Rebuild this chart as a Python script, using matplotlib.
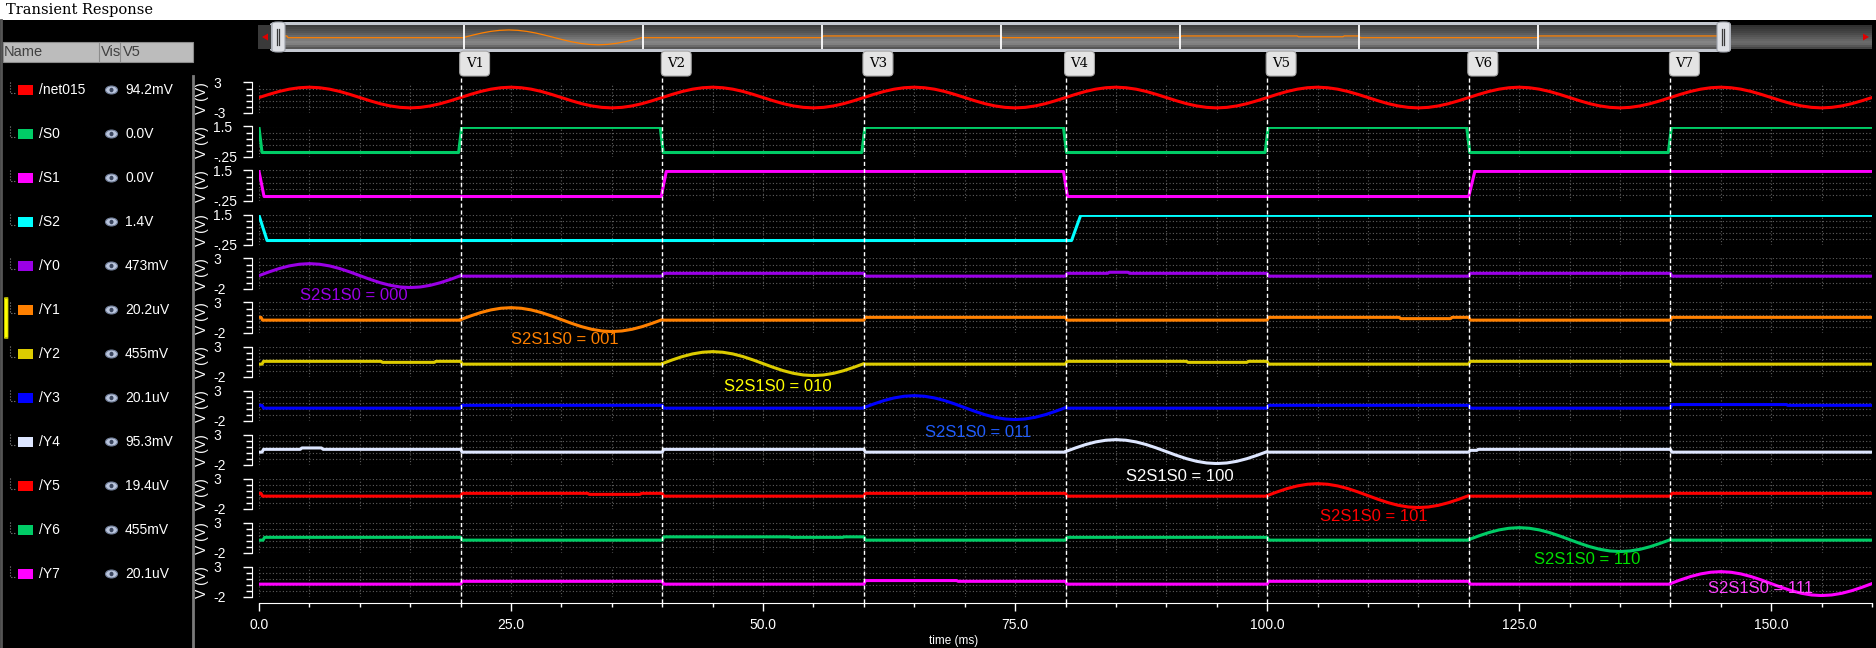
import numpy as np
import matplotlib
matplotlib.use('Agg')
import matplotlib.pyplot as plt
from matplotlib.patches import Rectangle, Ellipse, FancyBboxPatch, Polygon
from matplotlib.lines import Line2D

W, H = 1876, 648
plt.rcParams['font.family'] = ['Liberation Sans', 'DejaVu Sans']

# ---------------- data ----------------
marker_times = [20, 40, 60, 80, 100, 120, 140]
marker_names = ['V1', 'V2', 'V3', 'V4', 'V5', 'V6', 'V7']

# one period (20 ms) of the input sine, sampled every 1 ms (V)
period_t = list(range(21))
period_v = [0.09, 0.71, 1.27, 1.71, 1.99, 2.09, 1.99, 1.71, 1.27, 0.71, 0.09,
            -0.53, -1.09, -1.53, -1.81, -1.91, -1.81, -1.53, -1.09, -0.53, 0.09]
n_periods = 8

# select lines (ms, V)
s0_t = [0, 0.3, 19.8, 20.1, 39.8, 40.1, 59.8, 60.1, 79.8, 80.1, 99.8, 100.1,
        119.8, 120.1, 139.8, 140.1, 160]
s0_v = [1.4, 0, 0, 1.4, 1.4, 0, 0, 1.4, 1.4, 0, 0, 1.4, 1.4, 0, 0, 1.4, 1.4]
s1_t = [0, 0.5, 39.9, 40.4, 79.8, 80.2, 120.0, 120.6, 160]
s1_v = [1.4, 0, 0, 1.4, 1.4, 0, 0, 1.4, 1.4]
s2_t = [0, 0.8, 80.6, 81.5, 160]
s2_v = [1.4, 0, 0, 1.4, 1.4]

# outputs, one entry per 20 ms window: 'sin' = passes the input,
# a number = flat level, a list = (offset ms, level) steps inside the window
y0_segs = ['sin', 0.0, 0.47, 0.0, [(0, 0.47), (4.2, 0.65), (6.2, 0.47)], 0.0, 0.47, 0.0]
y1_segs = [[(0, 0.47), (0.2, 0.0)], 'sin', 0.0, 0.47, 0.0,
           [(0, 0.47), (13.1, 0.25), (18.2, 0.47)], 0.0, 0.47]
y2_segs = [[(0, 0.0), (0.3, 0.47), (12.1, 0.3), (17.4, 0.47)], 0.0, 'sin', 0.0,
           [(0, 0.47), (12.0, 0.3), (18.0, 0.47)], 0.0, 0.47, 0.0]
y3_segs = [[(0, 0.47), (0.3, 0.0)], 0.47, 0.0, 'sin', 0.0, 0.47, 0.0,
           [(0, 0.6), (11.5, 0.47)]]
y4_segs = [[(0, 0.0), (0.3, 0.47), (4.1, 0.7), (6.2, 0.47)], 0.0, 0.47, 0.0, 'sin',
           0.0, [(0, 0.3), (0.8, 0.47)], 0.0]
y5_segs = [[(0, 0.47), (0.2, 0.0)], [(0, 0.47), (12.6, 0.3), (17.8, 0.47)], 0.0, 0.47,
           0.0, 'sin', 0.0, 0.47]
y6_segs = [[(0, 0.0), (0.4, 0.47)], 0.0, [(0, 0.55), (12.6, 0.47), (17.9, 0.55)], 0.0,
           0.47, 0.0, 'sin', 0.0]
y7_segs = [0.0, 0.47, 0.0, [(0, 0.6), (9.2, 0.47)], 0.0, 0.47, 0.0, 'sin']

names = ['/net015', '/S0', '/S1', '/S2', '/Y0', '/Y1', '/Y2', '/Y3',
         '/Y4', '/Y5', '/Y6', '/Y7']
values_v5 = ['94.2mV', '0.0V', '0.0V', '1.4V', '473mV', '20.2uV', '455mV',
             '20.1uV', '95.3mV', '19.4uV', '455mV', '20.1uV']
colors = ['#ff0000', '#00cc66', '#ff00ff', '#00ffff', '#9a00e6', '#ff8000',
          '#dccb00', '#0000ff', '#dde6ff', '#ff0000', '#00cc66', '#ff00ff']

anno_text = ['S2S1S0 = 000', 'S2S1S0 = 001', 'S2S1S0 = 010', 'S2S1S0 = 011',
             'S2S1S0 = 100', 'S2S1S0 = 101', 'S2S1S0 = 110', 'S2S1S0 = 111']
anno_x = [4.1, 25.0, 46.1, 66.1, 86.0, 105.2, 126.5, 143.7]
anno_y = [-3.3, -3.3, -3.75, -4.0, -4.1, -3.45, -3.2, -0.65]
anno_colors = ['#9a00e6', '#ff8000', '#ffff00', '#1f5cff', '#ffffff',
               '#ff0000', '#00e000', '#ff44ff']


def build(segs):
    ts, vs = [], []
    for k, seg in enumerate(segs):
        t0 = 20 * k
        if isinstance(seg, str):
            ts += [t0 + p for p in period_t]
            vs += list(period_v)
            continue
        if not isinstance(seg, list):
            seg = [(0, seg)]
        for j, (off, lev) in enumerate(seg):
            end = seg[j + 1][0] if j + 1 < len(seg) else 20
            start = off + (0.15 if (off > 0 or k > 0) else 0)
            ts += [t0 + start, t0 + end]
            vs += [lev, lev]
    return ts, vs


net_t = [p + 20 * k for k in range(n_periods) for p in period_t[:-1]] + [160]
net_v = period_v[:-1] * n_periods + [period_v[-1]]

traces = [(net_t, net_v), (s0_t, s0_v), (s1_t, s1_v), (s2_t, s2_v)]
for segs in [y0_segs, y1_segs, y2_segs, y3_segs, y4_segs, y5_segs, y6_segs, y7_segs]:
    traces.append(build(segs))

ylims = [(-2.9, 3.0)] + [(-0.25, 1.45)] * 3 + [(-2.15, 2.95)] * 8
ylabels = [('-3', '3')] + [('-.25', '1.5')] * 3 + [('-2', '3')] * 8

# ---------------- layout helpers (pixels of the 1876x648 picture) ----------------
def fx(x):
    return x / W


def fy(y):
    return 1 - y / H


fig = plt.figure(figsize=(W / 100, H / 100), dpi=100, facecolor='black')


def px_rect(x0, y0, x1, y1, **kw):
    r = Rectangle((fx(x0), fy(y1)), (x1 - x0) / W, (y1 - y0) / H,
                  transform=fig.transFigure, **kw)
    fig.add_artist(r)
    return r


def px_line(xs, ys, **kw):
    fig.add_artist(Line2D([fx(x) for x in xs], [fy(y) for y in ys],
                          transform=fig.transFigure, **kw))


x_left, x_right = 259, 1872
strip_top0, strip_pitch, strip_h = 82.5, 44.0, 30.5

# ---------------- strips ----------------
axes = []
for i, ((t, v), c) in enumerate(zip(traces, colors)):
    top = strip_top0 + strip_pitch * i
    ax = fig.add_axes([fx(x_left), fy(top + strip_h), (x_right - x_left) / W, strip_h / H])
    ax.patch.set_visible(False)
    ax.plot(t, v, color=c, lw=2.2)
    lo, hi = ylims[i]
    ax.set_xlim(0, 160)
    ax.set_ylim(lo, hi)
    for s in ['top', 'right', 'bottom']:
        ax.spines[s].set_visible(False)
    ax.spines['left'].set_color('white')
    ax.spines['left'].set_position(('outward', 5))
    ax.set_yticks([lo, hi])
    ax.set_yticklabels(list(ylabels[i]))
    ax.set_yticks(np.linspace(lo, hi, 6), minor=True)
    ax.set_xticks(np.arange(0, 151, 25))
    ax.set_xticks(np.arange(0, 161, 5), minor=True)
    ax.tick_params(axis='y', which='major', colors='white', length=6.5, width=1,
                   pad=21.6, labelsize=10)
    ax.tick_params(axis='y', which='minor', colors='white', length=4.3, width=1)
    for lab in ax.get_yticklabels():
        lab.set_horizontalalignment('left')
    ax.grid(which='both', color='#5e5e5e', linestyle=(0, (1, 2)), lw=0.8)
    ax.annotate('V (V)', xy=(0, 0.5), xycoords='axes fraction', xytext=(-57, 0),
                textcoords='offset pixels', rotation=90, ha='center', va='center',
                color='white', fontsize=10)
    if i < len(traces) - 1:
        ax.tick_params(axis='x', which='both', length=0, labelbottom=False)
    else:
        ax.spines['bottom'].set_visible(True)
        ax.spines['bottom'].set_color('white')
        ax.spines['bottom'].set_position(('outward', 4.3))
        ax.set_xticklabels(['%.1f' % x for x in np.arange(0, 151, 25)])
        ax.tick_params(axis='x', which='major', colors='white', length=5.8, width=1,
                       pad=5.0, labelsize=10)
        ax.tick_params(axis='x', which='minor', colors='white', length=2.9, width=1)
    axes.append(ax)

for k in range(8):
    ax = axes[4 + k]
    ax.text(anno_x[k], anno_y[k], anno_text[k], color=anno_colors[k], fontsize=12,
            ha='left', va='center', clip_on=False)

fig.text(fx(954), fy(641), 'time (ms)', color='white', fontsize=8.5, ha='center', va='center')

# markers overlay
ax_all = fig.add_axes([fx(x_left), fy(603), (x_right - x_left) / W, 551 / H])
ax_all.set_xlim(0, 160)
ax_all.set_ylim(0, 1)
ax_all.axis('off')
ax_all.vlines(marker_times, 0, 0.958, colors='white', linestyles=(0, (3, 2)), lw=1.0)
for tm, nm in zip(marker_times, marker_names):
    ax_all.annotate(nm, xy=(tm, 0.979), xycoords=('data', 'axes fraction'),
                    xytext=(5, 0), textcoords='offset pixels', ha='left', va='center',
                    fontsize=9.5, color='black', family='DejaVu Serif',
                    bbox=dict(boxstyle='round,pad=0.45,rounding_size=0.3',
                              fc='#e4e4e4', ec='#a8a8a8', lw=0.8))

# ---------------- overview bar at the top ----------------
fig.add_artist(FancyBboxPatch((fx(270), fy(52)), (1731 - 270) / W, 30 / H,
                              boxstyle='round,pad=0,rounding_size=0.004',
                              transform=fig.transFigure, fc='#c4c8d0', ec='none', zorder=-1))
grad = [0.24, 0.27, 0.3, 0.33, 0.37, 0.41, 0.45, 0.49, 0.52, 0.5, 0.42, 0.34]
ov_lo, ov_hi = -3.05, 3.43


def gradient_bands(ax, lo, hi, scale=1.0):
    edges = np.linspace(hi, lo, len(grad) + 1)
    for g, a, b in zip(grad, edges[:-1], edges[1:]):
        ax.axhspan(b, a, color=str(g * scale), lw=0, zorder=0)


ax_ov = fig.add_axes([fx(285), fy(49), (1717 - 285) / W, 24 / H])
ax_ov.set_zorder(1)
gradient_bands(ax_ov, ov_lo, ov_hi)
ax_ov.plot(traces[5][0], traces[5][1], color='#ff8000', lw=0.9, zorder=2)
ax_ov.vlines(marker_times, ov_lo, ov_hi, colors='white', lw=1.3, zorder=3)
ax_ov.set_xlim(0, 160)
ax_ov.set_ylim(ov_lo, ov_hi)
ax_ov.axis('off')

ax_tr = fig.add_axes([fx(1731), fy(49), (1872 - 1731) / W, 24 / H])
ax_tr.set_zorder(1)
gradient_bands(ax_tr, 0, 1, 0.8)
ax_tr.set_xlim(0, 1)
ax_tr.set_ylim(0, 1)
ax_tr.axis('off')
px_rect(258, 25, 271, 49, fc='#3a3a3a', ec='none')
fig.add_artist(Polygon([(fx(262), fy(37)), (fx(268), fy(33.5)), (fx(268), fy(40.5))],
                       closed=True, transform=fig.transFigure, fc='#e00000', ec='none',
                       zorder=3))
fig.add_artist(Polygon([(fx(1869), fy(37)), (fx(1863), fy(33.5)), (fx(1863), fy(40.5))],
                       closed=True, transform=fig.transFigure, fc='#e00000', ec='none',
                       zorder=3))
for hx in [272, 1717]:
    fig.add_artist(FancyBboxPatch((fx(hx), fy(52)), 13 / W, 30 / H,
                                  boxstyle='round,pad=0,rounding_size=0.003',
                                  transform=fig.transFigure, fc='#dfe1e6', ec='#9ea2aa',
                                  lw=0.8, zorder=2))
    for dx in [4.5, 7]:
        px_line([hx + dx, hx + dx], [29, 45], color='#3a3a3a', lw=0.9, zorder=3)

# ---------------- window chrome / legend panel ----------------
px_rect(0, 0, W, 20, fc='white', ec='none')
fig.text(fx(6), fy(10), 'Transient Response', color='black', fontsize=10.5,
         family='DejaVu Serif', ha='left', va='center')
px_line([1, 1], [20, 648], color='#555555', lw=2)
px_line([193, 193], [76, 648], color='#7a7a7a', lw=2)

px_rect(3, 42, 193, 62, fc='#bcbcbc', ec='#8c8c8c', lw=0.8)
px_line([99, 99], [42, 62], color='#8c8c8c', lw=0.8)
px_line([120, 120], [42, 62], color='#8c8c8c', lw=0.8)
for hx, ht in [(4, 'Name'), (101, 'Vis'), (123, 'V5')]:
    fig.text(fx(hx), fy(52), ht, color='#404040', fontsize=10.5, ha='left', va='center')

for i, (nm, val, c) in enumerate(zip(names, values_v5, colors)):
    yc = 90 + 44.0 * i
    px_line([10, 10, 15], [yc - 8, yc + 3, yc + 3], color='#8c8c8c', lw=0.8, ls=':')
    px_rect(18, yc - 5, 33, yc + 5, fc=c, ec='none')
    fig.text(fx(39), fy(yc), nm, color='white', fontsize=10, ha='left', va='center')
    fig.add_artist(Ellipse((fx(111.5), fy(yc)), 12 / W, 8 / H, transform=fig.transFigure,
                           fc='#b8c4dc', ec='#6f7c96', lw=0.8))
    fig.add_artist(Ellipse((fx(111.5), fy(yc)), 4 / W, 4.5 / H, transform=fig.transFigure,
                           fc='#3b465e', ec='none'))
    fig.text(fx(125), fy(yc), val, color='white', fontsize=10, ha='left', va='center')

fig.add_artist(FancyBboxPatch((fx(4.5), fy(338)), 3.5 / W, 40 / H,
                              boxstyle='round,pad=0,rounding_size=0.002',
                              transform=fig.transFigure, fc='#ffff00', ec='#c8c800', lw=0.6))

fig.savefig('out.png', dpi=100, facecolor='black')
